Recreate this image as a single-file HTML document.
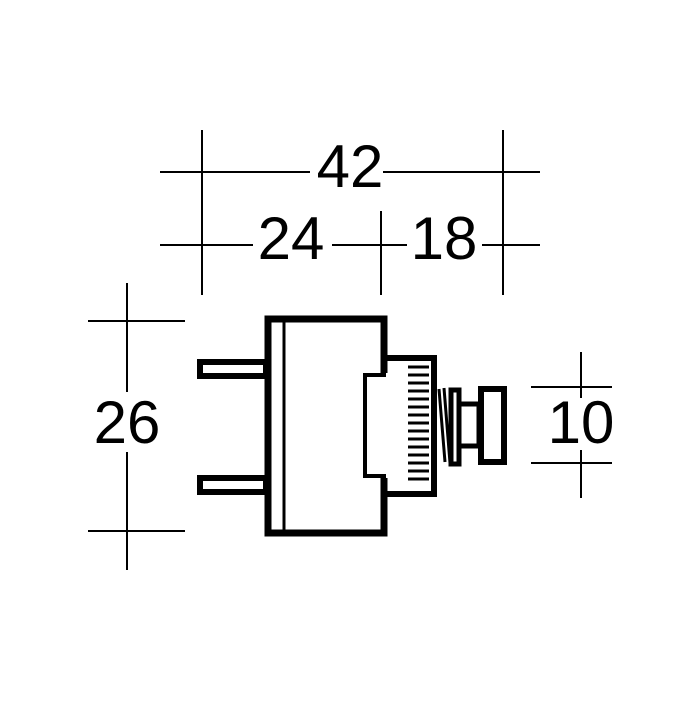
<!DOCTYPE html>
<html><head><style>html,body{margin:0;background:#fff}</style></head><body>
<svg width="700" height="700" viewBox="0 0 700 700" xmlns="http://www.w3.org/2000/svg">
<rect width="700" height="700" fill="#fff"/>
<g stroke="#000" stroke-width="2" fill="none">
<line x1="160" y1="172" x2="310" y2="172"/><line x1="383" y1="172" x2="540" y2="172"/>
<line x1="160" y1="245" x2="253" y2="245"/><line x1="332" y1="245" x2="407" y2="245"/><line x1="482" y1="245" x2="540" y2="245"/>
<line x1="202" y1="130" x2="202" y2="295"/><line x1="503" y1="130" x2="503" y2="295"/><line x1="381" y1="211" x2="381" y2="295"/>
<line x1="127" y1="283" x2="127" y2="392"/><line x1="127" y1="452" x2="127" y2="570"/>
<line x1="88" y1="321" x2="185" y2="321"/><line x1="88" y1="531" x2="185" y2="531"/>
<line x1="581" y1="352" x2="581" y2="398"/><line x1="581" y1="450" x2="581" y2="498"/>
<line x1="531" y1="387" x2="612" y2="387"/><line x1="531" y1="463" x2="612" y2="463"/>
</g>
<g font-family="Liberation Sans, sans-serif" font-size="60" text-anchor="middle" fill="#000">
<text x="350" y="187">42</text>
<text x="291" y="259">24</text>
<text x="444" y="259">18</text>
<text x="127" y="443">26</text>
<text x="581" y="443">10</text>
</g>
<g stroke="#000" fill="none">
<path d="M384,373 L384,319 L268,319 L268,533 L384,533 L384,478" stroke-width="7"/>
<line x1="284" y1="319" x2="284" y2="533" stroke-width="3"/>
<rect x="200" y="362" width="66" height="14" stroke-width="6"/>
<rect x="200" y="478" width="66" height="14" stroke-width="6"/>
<line x1="213" y1="369" x2="218" y2="369" stroke="#fff" stroke-width="2"/>
<line x1="213" y1="485" x2="218" y2="485" stroke="#fff" stroke-width="2"/>
<polyline points="387,358 434,358 434,494 387,494" stroke-width="6"/>
<polyline points="386,375 365,375 365,476 386,476" stroke-width="4"/>
<g stroke-width="3">
<line x1="408" y1="367" x2="429" y2="367"/><line x1="408" y1="375" x2="429" y2="375"/><line x1="408" y1="383" x2="429" y2="383"/><line x1="408" y1="391" x2="429" y2="391"/><line x1="408" y1="399" x2="429" y2="399"/><line x1="408" y1="407" x2="429" y2="407"/><line x1="408" y1="415" x2="429" y2="415"/><line x1="408" y1="423" x2="429" y2="423"/><line x1="408" y1="431" x2="429" y2="431"/><line x1="408" y1="439" x2="429" y2="439"/><line x1="408" y1="447" x2="429" y2="447"/><line x1="408" y1="455" x2="429" y2="455"/><line x1="408" y1="463" x2="429" y2="463"/><line x1="408" y1="471" x2="429" y2="471"/><line x1="408" y1="479" x2="429" y2="479"/>
<line x1="439" y1="389" x2="445" y2="462"/><line x1="444" y1="388" x2="450" y2="463"/>
</g>
<rect x="451" y="390" width="8" height="74" stroke-width="5"/>
<rect x="459" y="404" width="20" height="42" stroke-width="5"/>
<rect x="481" y="389" width="23" height="73" stroke-width="6"/>
</g>
</svg>
</body></html>
